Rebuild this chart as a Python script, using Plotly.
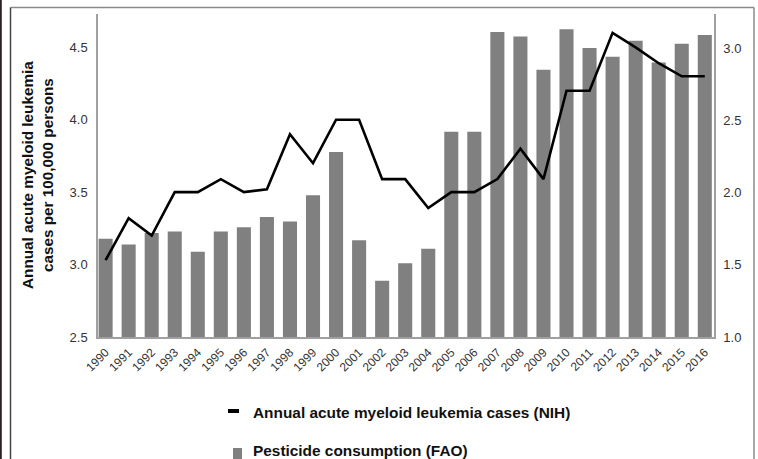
import plotly.graph_objects as go

years = [str(y) for y in range(1990, 2017)]
aml_cases = [3.03, 3.32, 3.20, 3.50, 3.50, 3.59, 3.50, 3.52, 3.90, 3.70, 4.00, 4.00,
             3.59, 3.59, 3.39, 3.50, 3.50, 3.59, 3.80, 3.59, 4.20, 4.20, 4.60, 4.50,
             4.39, 4.30, 4.30]
pesticide = [1.68, 1.64, 1.72, 1.73, 1.59, 1.73, 1.76, 1.83, 1.80, 1.98, 2.28, 1.67,
             1.39, 1.51, 1.61, 2.42, 2.42, 3.11, 3.08, 2.85, 3.13, 3.00, 2.94, 3.05,
             2.90, 3.03, 3.09]
left_ticks = [2.5, 3.0, 3.5, 4.0, 4.5]
right_ticks = [1.0, 1.5, 2.0, 2.5, 3.0]

FONT = "Liberation Sans, Arial, sans-serif"
idx = list(range(len(years)))

fig = go.Figure()
fig.add_trace(go.Bar(x=idx, y=pesticide, name="Pesticide consumption (FAO)",
                     marker=dict(color="#808080", line=dict(width=0)),
                     width=0.61, yaxis="y", showlegend=False))
fig.add_trace(go.Scatter(x=idx, y=aml_cases, mode="lines",
                         name="Annual acute myeloid leukemia cases (NIH)",
                         line=dict(color="black", width=2.6), yaxis="y2",
                         showlegend=False))

W0, W1, H0, H1 = 98, 714, 14, 337
def px(x):
    return (x - W0) / (W1 - W0)
def py(y):
    return (H1 - y) / (H1 - H0)

fig.update_layout(
    width=758, height=459,
    margin=dict(l=98, r=758 - 714, t=14, b=459 - 337),
    plot_bgcolor="white", paper_bgcolor="white",
    font=dict(family=FONT, color="#333333", size=13),
    xaxis=dict(range=[-0.33, 26.4], tickmode="array", tickvals=idx, ticktext=years,
               tickangle=-45, tickfont=dict(size=12, color="#333333"),
               showgrid=False, zeroline=False, showline=True, linecolor="#a0a0a0",
               linewidth=1.5, ticks="", ticklabelstandoff=2),
    yaxis=dict(side="right", range=[1.0, 3.235], tickmode="array",
               tickvals=right_ticks, ticktext=[f"{v:.1f}" for v in right_ticks],
               showgrid=False, zeroline=False, showline=True, linecolor="#a0a0a0",
               linewidth=1.5, ticks="", ticklabelstandoff=5,
               tickfont=dict(size=13, color="#333333")),
    yaxis2=dict(side="left", overlaying="y", range=[2.5, 4.73], tickmode="array",
                tickvals=left_ticks, ticktext=[f"{v:.1f}" for v in left_ticks],
                showgrid=False, zeroline=False, showline=True, linecolor="#a0a0a0",
                linewidth=1.5, ticks="", ticklabelstandoff=6,
                tickfont=dict(size=13, color="#333333")),
    showlegend=False,
)

# axis title (left)
fig.add_annotation(xref="paper", yref="paper", x=px(37), y=py(175),
                   text="<b>Annual acute myeloid leukemia<br>cases per 100,000 persons</b>",
                   textangle=-90, showarrow=False, font=dict(size=15.3, color="#111111", family=FONT),
                   xanchor="center", yanchor="middle")

# legend
fig.add_shape(type="line", xref="paper", yref="paper", x0=px(228), x1=px(239),
              y0=py(411), y1=py(411), line=dict(color="black", width=4))
fig.add_annotation(xref="paper", yref="paper", x=px(251), y=py(412),
                   text="<b>Annual acute myeloid leukemia cases (NIH)</b>",
                   showarrow=False, xanchor="left", yanchor="middle",
                   font=dict(size=15.4, color="#111111", family=FONT))
fig.add_shape(type="rect", xref="paper", yref="paper", x0=px(233), x1=px(242),
              y0=py(475), y1=py(448), fillcolor="#808080", line=dict(width=0))
fig.add_annotation(xref="paper", yref="paper", x=px(251), y=py(450),
                   text="<b>Pesticide consumption (FAO)</b>",
                   showarrow=False, xanchor="left", yanchor="middle",
                   font=dict(size=15.4, color="#111111", family=FONT))

# outer frame
fig.add_shape(type="line", xref="paper", yref="paper", x0=px(10.5), x1=px(754),
              y0=py(7.5), y1=py(7.5), line=dict(color="#8a8a8a", width=1.5))
fig.add_shape(type="line", xref="paper", yref="paper", x0=px(754), x1=px(754),
              y0=py(7.5), y1=py(470), line=dict(color="#8a8a8a", width=1.5))
fig.add_shape(type="line", xref="paper", yref="paper", x0=px(10.5), x1=px(10.5),
              y0=py(7.5), y1=py(470), line=dict(color="#444444", width=1.5))
fig.add_shape(type="line", xref="paper", yref="paper", x0=px(0.8), x1=px(0.8),
              y0=py(-5), y1=py(470), line=dict(color="#2a2226", width=2))

fig.write_html("out.html", config={"displayModeBar": False},
               post_script="document.body.style.margin='0';document.body.style.padding='0';document.body.style.overflow='hidden';")
